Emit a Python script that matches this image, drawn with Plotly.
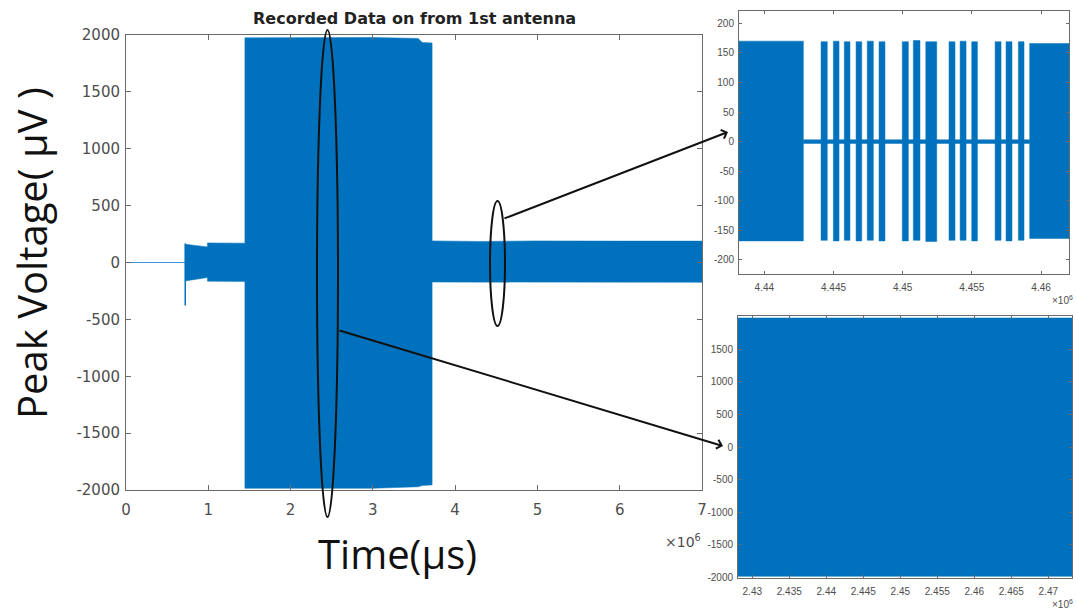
import plotly.graph_objects as go

W, H = 1078, 613
BLUE = "#0072BD"
AXIS = "#6a6a6a"
TICKTXT = "#4d4d4d"

# ---- full record from the 1st antenna (time in 10^6 µs, voltage in µV) ----
quiet_t = [0.0, 0.72]
quiet_v = [0, 0]
spike_t = [0.72, 0.72]
spike_v = [167, -378]
main_t = [0.72, 0.99, 0.99, 1.20, 1.445, 1.445, 2.00, 3.00, 3.55, 3.60, 3.72, 3.72, 4.30, 5.00, 6.00, 7.00]
main_hi = [161, 137, 172, 170, 170, 1975, 1978, 1978, 1970, 1935, 1930, 190, 185, 190, 188, 188]
main_lo = [-162, -132, -164, -166, -166, -1985, -1985, -1985, -1972, -1960, -1955, -172, -175, -172, -174, -174]

# ---- zoom near 4.45e6 µs: packet bursts ----
burst_start = [4.43817, 4.44410, 4.44499, 4.44578, 4.44663, 4.44744, 4.44829, 4.44997, 4.45077,
               4.45167, 4.45335, 4.45415, 4.45499, 4.45668, 4.45747, 4.45836, 4.45918]
burst_end = [4.44282, 4.44455, 4.44540, 4.44619, 4.44704, 4.44788, 4.44872, 4.45041, 4.45125,
             4.45246, 4.45378, 4.45458, 4.45540, 4.45711, 4.45790, 4.45877, 4.46202]
burst_hi = [170, 169, 170, 169, 169, 170, 169, 169, 171, 169, 169, 170, 169, 169, 169, 169, 166]
burst_lo = [-168, -167, -168, -167, -168, -167, -168, -168, -167, -169, -167, -167, -168, -167, -168, -167, -164]
idle_t = [4.44282, 4.45918]
idle_hi = [3, 3]
idle_lo = [-3, -3]

# ---- zoom near 2.45e6 µs: saturated segment ----
sat_t = [2.42807, 2.47320]
sat_hi = [1980, 1980]
sat_lo = [-1985, -1985]

# axis ticks
main_xticks = [0, 1, 2, 3, 4, 5, 6, 7]
main_yticks = [-2000, -1500, -1000, -500, 0, 500, 1000, 1500, 2000]
top_xticks = [4.44, 4.445, 4.45, 4.455, 4.46]
top_yticks = [-200, -150, -100, -50, 0, 50, 100, 150, 200]
bot_xticks = [2.43, 2.435, 2.44, 2.445, 2.45, 2.455, 2.46, 2.465, 2.47]
bot_yticks = [-2000, -1500, -1000, -500, 0, 500, 1000, 1500]


def envelope(t, hi, lo):
    return list(t) + list(t[::-1]) + [t[0]], list(hi) + list(lo[::-1]) + [hi[0]]


def rects(t0, t1, hi, lo):
    xs, ys = [], []
    for a, b, h, l in zip(t0, t1, hi, lo):
        xs += [a, a, b, b, a, None]
        ys += [l, h, h, l, l, None]
    return xs, ys


def px_x(p):
    return p / W


def px_y(p):
    return 1 - p / H


fig = go.Figure()

# main record
fig.add_trace(go.Scatter(x=quiet_t, y=quiet_v, mode="lines",
                         line=dict(color="#3d93d3", width=1), xaxis="x", yaxis="y"))
ex, ey = envelope(main_t, main_hi, main_lo)
fig.add_trace(go.Scatter(x=ex, y=ey, mode="lines", fill="toself", fillcolor=BLUE,
                         line=dict(color=BLUE, width=0.5), xaxis="x", yaxis="y"))
fig.add_trace(go.Scatter(x=spike_t, y=spike_v, mode="lines",
                         line=dict(color=BLUE, width=1.5), xaxis="x", yaxis="y"))

# packet zoom
ix, iy = envelope(idle_t, idle_hi, idle_lo)
fig.add_trace(go.Scatter(x=ix, y=iy, mode="lines", fill="toself", fillcolor=BLUE,
                         line=dict(color=BLUE, width=0.5), xaxis="x2", yaxis="y2"))
bx, by = rects(burst_start, burst_end, burst_hi, burst_lo)
fig.add_trace(go.Scatter(x=bx, y=by, mode="lines", fill="toself", fillcolor=BLUE,
                         line=dict(color=BLUE, width=0.5), xaxis="x2", yaxis="y2"))

# saturated zoom
sx, sy = envelope(sat_t, sat_hi, sat_lo)
fig.add_trace(go.Scatter(x=sx, y=sy, mode="lines", fill="toself", fillcolor=BLUE,
                         line=dict(color=BLUE, width=0.5), xaxis="x3", yaxis="y3"))


def axis(domain, rng, ticks, fontsize, ticklen, standoff, anchor):
    return dict(domain=domain, range=rng, tickvals=ticks,
                ticktext=[f"{v:g}" for v in ticks],
                showgrid=False, zeroline=False,
                showline=True, linecolor=AXIS, linewidth=1, mirror="allticks",
                ticks="inside", ticklen=ticklen, tickcolor=AXIS, tickwidth=1,
                tickfont=dict(family="DejaVu Sans" if fontsize > 12 else "Liberation Sans",
                              size=fontsize, color=TICKTXT),
                ticklabelstandoff=standoff, anchor=anchor, fixedrange=True,
                automargin=False)


fig.update_layout(
    width=W, height=H, margin=dict(l=0, r=0, t=0, b=0, pad=0),
    paper_bgcolor="white", plot_bgcolor="white", showlegend=False,
    xaxis=axis([px_x(126), px_x(702)], [0, 7], main_xticks, 15, 5, 6, "y"),
    yaxis=axis([px_y(490), px_y(35)], [-2000, 2000], main_yticks, 15, 5, 2, "x"),
    xaxis2=axis([px_x(739), px_x(1069)], [4.43817, 4.46202], top_xticks, 10, 3, 4, "y2"),
    yaxis2=axis([px_y(274), px_y(11)], [-224, 221], top_yticks, 10, 3, 2, "x2"),
    xaxis3=axis([px_x(738), px_x(1072)], [2.42807, 2.4732], bot_xticks, 10, 3, 4, "y3"),
    yaxis3=axis([px_y(578), px_y(316)], [-2010, 2010], bot_yticks, 10, 3, 2, "x3"),
)


def label(xp, yp, text, family, size, color, angle=0):
    fig.add_annotation(x=px_x(xp), y=px_y(yp), xref="paper", yref="paper",
                       xanchor="center", yanchor="middle", text=text,
                       showarrow=False, textangle=angle,
                       font=dict(family=family, size=size, color=color))


# exponent labels
label(683, 541, "×10<sup>6</sup>", "DejaVu Sans", 14, TICKTXT)
label(1062, 300, "×10<sup>6</sup>", "Liberation Sans", 10, TICKTXT)
label(1062, 604, "×10<sup>6</sup>", "Liberation Sans", 10, TICKTXT)

# title and big axis labels
label(414, 19, "<b>Recorded Data on from 1st antenna</b>", "DejaVu Sans", 16, "#222")
label(397, 553, "Time(µs)", "Open Sans", 40, "#111")
label(31, 253, "Peak Voltage( µV )", "Open Sans", 40, "#111", angle=-90)

# ellipses marking the zoomed regions
for x0, x1, y0, y1 in [(317, 338, 30, 517), (490, 505, 201, 326)]:
    fig.add_shape(type="circle", xref="paper", yref="paper",
                  x0=px_x(x0), x1=px_x(x1), y0=px_y(y1), y1=px_y(y0),
                  line=dict(color="#111", width=2))

# arrows to the zoom panels
for sx0, sy0, ex0, ey0 in [(503, 219, 728, 132), (338, 330, 723, 446)]:
    fig.add_annotation(x=px_x(ex0), y=px_y(ey0), xref="paper", yref="paper",
                       ax=sx0 - ex0, ay=sy0 - ey0, axref="pixel", ayref="pixel",
                       showarrow=True, arrowhead=4, arrowsize=0.9, arrowwidth=2,
                       arrowcolor="#111", text="")

fig.write_html("out.html")
